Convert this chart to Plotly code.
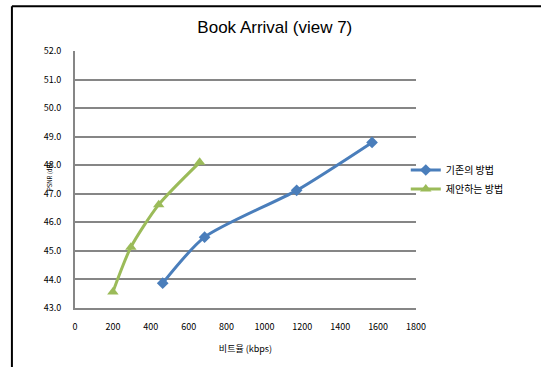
import plotly.graph_objects as go

# Rate-distortion points for the two methods
bitrate_existing = [463, 684, 1170, 1568]
psnr_existing = [43.87, 45.48, 47.12, 48.8]

bitrate_proposed = [200, 295, 442, 658]
psnr_proposed = [43.56, 45.13, 46.62, 48.1]

x_ticks = [0, 200, 400, 600, 800, 1000, 1200, 1400, 1600, 1800]
y_ticks = [43.0, 44.0, 45.0, 46.0, 47.0, 48.0, 49.0, 50.0, 51.0, 52.0]

FONT = "Noto Sans CJK KR, Liberation Sans, sans-serif"
GRID = "#868686"

fig = go.Figure()
fig.add_trace(go.Scatter(
    x=bitrate_existing, y=psnr_existing, name="기존의 방법",
    mode="lines+markers",
    line=dict(color="#4A7EBB", width=3, shape="spline", smoothing=0.7),
    marker=dict(symbol="diamond", size=9, color="#4A7EBB"),
))
fig.add_trace(go.Scatter(
    x=bitrate_proposed, y=psnr_proposed, name="제안하는 방법",
    mode="lines+markers",
    line=dict(color="#9BBB59", width=3, shape="spline", smoothing=0.7),
    marker=dict(symbol="triangle-up", size=10, color="#9BBB59"),
))

fig.update_layout(
    width=541, height=367,
    margin=dict(l=75, r=125, t=51, b=59),
    paper_bgcolor="white", plot_bgcolor="white",
    font=dict(family=FONT, size=9, color="#000000"),
    title=dict(text="Book Arrival (view 7)", x=0.508, xanchor="center",
               y=0.925, yanchor="middle",
               font=dict(family="Liberation Sans, sans-serif", size=17)),
    showlegend=True,
    legend=dict(x=0.97, xanchor="left", y=0.5, yanchor="middle",
                font=dict(size=10), bgcolor="rgba(0,0,0,0)",
                itemwidth=30, tracegroupgap=2),
    xaxis=dict(range=[0, 1800], tickvals=x_ticks, ticktext=[str(v) for v in x_ticks],
               showgrid=False, zeroline=False, showline=True, linecolor=GRID,
               linewidth=2, ticks="", tickfont=dict(size=9), ticklabelstandoff=9,
               title=dict(text="비트율 (kbps)", font=dict(size=9), standoff=14)),
    yaxis=dict(range=[43, 52], tickvals=y_ticks, ticktext=[f"{v:.1f}" for v in y_ticks],
               showgrid=True, gridcolor=GRID, gridwidth=2, zeroline=False,
               showline=True, linecolor=GRID, linewidth=2, ticks="",
               tickfont=dict(size=9), ticklabelstandoff=10),
    annotations=[dict(text="PSNR (dB)", x=-0.092, y=0.51, xref="paper", yref="paper",
                      textangle=-90, showarrow=False, font=dict(size=6))],
    shapes=[
        dict(type="line", xref="paper", yref="paper", x0=-0.185, x1=1.5,
             y0=1.174, y1=1.174, line=dict(color="black", width=2)),
        dict(type="line", xref="paper", yref="paper", x0=-0.185, x1=-0.185,
             y0=1.174, y1=-0.4, line=dict(color="black", width=2)),
    ],
)

fig.write_html("out.html")
